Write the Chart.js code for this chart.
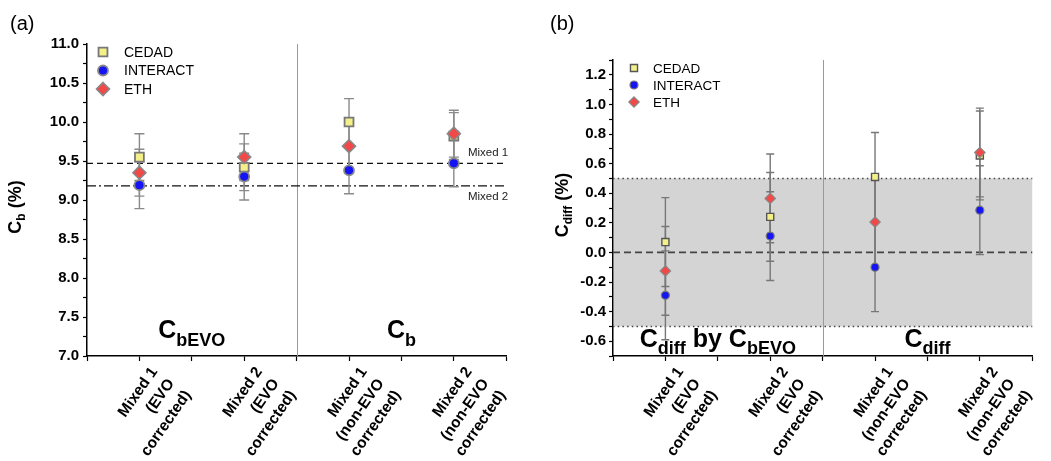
<!DOCTYPE html>
<html>
<head>
<meta charset="UTF-8">
<title>Cb and Cdiff</title>
<script src="https://cdn.jsdelivr.net/npm/chart.js"></script>
<style>
  body { margin: 0; background: #fff; }
  canvas { position: absolute; top: 0; }
</style>
</head>
<body>
<canvas id="grafA" width="525" height="461" style="left:0"></canvas>
<canvas id="grafB" width="526" height="461" style="left:525px"></canvas>
<script>
// samples on the x axis (1..4) and their labels
const samples = [1, 2, 3, 4];
const sampleLabels = [
  ['Mixed 1', '(EVO', 'corrected)'],
  ['Mixed 2', '(EVO', 'corrected)'],
  ['Mixed 1', '(non-EVO', 'corrected)'],
  ['Mixed 2', '(non-EVO', 'corrected)']
];
const labs = ['CEDAD', 'INTERACT', 'ETH'];

// (a) Cb (%)
const cbCedad    = [9.55, 9.42, 10.00, 9.82];
const cbInteract = [9.19, 9.30, 9.38, 9.47];
const cbEth      = [9.35, 9.55, 9.69, 9.85];
const cbErr      = [0.30, 0.30, 0.30, 0.30];
const cbMixed1 = 9.47;
const cbMixed2 = 9.18;
const cbTickLabels = ['7.0', '7.5', '8.0', '8.5', '9.0', '9.5', '10.0', '10.5', '11.0'];

// (b) Cdiff (%)
const cdCedad    = [0.07, 0.24, 0.51, 0.655];
const cdInteract = [-0.29, 0.11, -0.10, 0.285];
const cdEth      = [-0.125, 0.365, 0.205, 0.675];
const cdErr      = [0.30, 0.30, 0.30, 0.30];
const cdBand = [-0.5, 0.5];
const cdTickLabels = ['-0.6', '-0.4', '-0.2', '0.0', '0.2', '0.4', '0.6', '0.8', '1.0', '1.2'];

const FONT = '"Liberation Sans", Arial, sans-serif';
const YELLOW = '#f3f08a', BLUE = '#1414f5', RED = '#f24848';

function drawMarker(ctx, style, x, y, r, fill, stroke, lw) {
  ctx.beginPath();
  if (style === 'rect') {
    const s = r * Math.SQRT1_2;
    ctx.rect(x - s, y - s, 2 * s, 2 * s);
  } else if (style === 'rectRot') {
    ctx.moveTo(x, y - r); ctx.lineTo(x + r, y); ctx.lineTo(x, y + r); ctx.lineTo(x - r, y);
    ctx.closePath();
  } else {
    ctx.arc(x, y, r, 0, Math.PI * 2);
  }
  ctx.fillStyle = fill; ctx.fill();
  ctx.lineWidth = lw; ctx.strokeStyle = stroke; ctx.stroke();
}

// text with subscripts: parts = [[text, size, dy], ...]
function drawRich(ctx, x, y, parts, rot) {
  ctx.save();
  ctx.translate(x, y);
  if (rot) ctx.rotate(rot);
  ctx.fillStyle = '#000';
  ctx.textBaseline = 'alphabetic';
  ctx.textAlign = 'left';
  let total = 0;
  parts.forEach(p => { ctx.font = 'bold ' + p[1] + 'px ' + FONT; total += ctx.measureText(p[0]).width; });
  let cx = -total / 2;
  parts.forEach(p => {
    ctx.font = 'bold ' + p[1] + 'px ' + FONT;
    ctx.fillText(p[0], cx, p[2] || 0);
    cx += ctx.measureText(p[0]).width;
  });
  ctx.restore();
}

function panelPlugin(o) {
  return {
    id: 'panel' + o.tag,
    beforeDatasetsDraw(chart) {
      const { ctx, chartArea: a, scales: { x, y } } = chart;
      ctx.save();
      if (o.band) {
        const y1 = y.getPixelForValue(o.band[1]), y0 = y.getPixelForValue(o.band[0]);
        ctx.fillStyle = '#d4d4d4';
        ctx.fillRect(a.left + 1, y1, a.right - a.left - 1, y0 - y1);
        ctx.strokeStyle = '#444'; ctx.lineWidth = 1.5; ctx.setLineDash([1.5, 3.2]);
        [y0, y1].forEach(py => { ctx.beginPath(); ctx.moveTo(a.left, py); ctx.lineTo(a.right, py); ctx.stroke(); });
      }
      // separator between EVO corrected and non-EVO corrected
      ctx.setLineDash([]);
      ctx.strokeStyle = '#999'; ctx.lineWidth = 1;
      const sx = Math.round(x.getPixelForValue(2.5)) + 0.5;
      ctx.beginPath(); ctx.moveTo(sx, a.top); ctx.lineTo(sx, a.bottom); ctx.stroke();
      // reference lines
      o.refLines.forEach(r => {
        const py = y.getPixelForValue(r.value);
        ctx.strokeStyle = r.color; ctx.lineWidth = r.width; ctx.setLineDash(r.dash);
        ctx.beginPath(); ctx.moveTo(a.left, py); ctx.lineTo(a.right, py); ctx.stroke();
        if (r.label) {
          ctx.setLineDash([]);
          ctx.fillStyle = '#222'; ctx.font = '11.5px ' + FONT; ctx.textAlign = 'right';
          ctx.fillText(r.label, a.right + 2, py + r.labelDy);
        }
      });
      // error bars
      ctx.setLineDash([]);
      ctx.strokeStyle = o.errColor; ctx.lineWidth = 1.4;
      chart.data.datasets.forEach(ds => {
        ds.data.forEach((p, i) => {
          const e = ds.errors[i];
          const px = x.getPixelForValue(p.x);
          const top = y.getPixelForValue(p.y + e), bot = y.getPixelForValue(p.y - e);
          ctx.beginPath();
          ctx.moveTo(px, top); ctx.lineTo(px, bot);
          ctx.moveTo(px - o.cap, top); ctx.lineTo(px + o.cap, top);
          ctx.moveTo(px - o.cap, bot); ctx.lineTo(px + o.cap, bot);
          ctx.stroke();
        });
      });
      ctx.restore();
    },
    afterDraw(chart) {
      const { ctx, chartArea: a, scales: { x } } = chart;
      ctx.save();
      // legend
      chart.data.datasets.slice().sort((p, q) => p.legendIndex - q.legendIndex).forEach((ds, i) => {
        const ly = a.top + o.legend.dy + i * o.legend.step;
        const lx = a.left + o.legend.dx;
        drawMarker(ctx, ds.pointStyle, lx, ly, ds.pointRadius, ds.pointBackgroundColor, ds.pointBorderColor, ds.pointBorderWidth);
        ctx.fillStyle = '#000'; ctx.font = o.legend.font + 'px ' + FONT;
        ctx.textAlign = 'left'; ctx.textBaseline = 'middle';
        ctx.fillText(ds.label, lx + o.legend.text, ly + 1);
      });
      ctx.textBaseline = 'alphabetic';
      // panel letter
      ctx.font = '20px ' + FONT; ctx.fillStyle = '#000'; ctx.textAlign = 'left';
      ctx.fillText(o.letter, o.letterX, 30);
      // axis title
      drawRich(ctx, o.titleX, o.titleY, o.title, -Math.PI / 2);
      // group labels
      drawRich(ctx, x.getPixelForValue(1.5), a.bottom - o.groupDy, o.groupLeft);
      drawRich(ctx, x.getPixelForValue(3.5), a.bottom - o.groupDy, o.groupRight);
      ctx.restore();
    }
  };
}

function series(label, values, errs, style, r, fill, stroke, lw, order, legendIndex) {
  return {
    label: label,
    data: samples.map((s, i) => ({ x: s, y: values[i] })),
    errors: errs,
    pointStyle: style,
    pointRadius: r, pointHoverRadius: r,
    pointBackgroundColor: fill,
    pointBorderColor: stroke,
    pointBorderWidth: lw,
    pointHoverBorderWidth: lw,
    showLine: false,
    order: order,
    legendIndex: legendIndex
  };
}

function makeChart(id, o) {
  const tickFont = { family: FONT, size: 15, weight: 'bold' };
  return new Chart(document.getElementById(id), {
    type: 'scatter',
    data: { datasets: o.datasets },
    options: {
      responsive: false,
      animation: false,
      events: [],
      layout: { padding: { top: o.top, right: o.right, left: 0, bottom: 0 } },
      plugins: { legend: { display: false }, tooltip: { enabled: false } },
      scales: {
        x: {
          type: 'linear', min: 0.5, max: 4.5,
          afterFit: s => { s.height = 105; },
          ticks: {
            stepSize: 0.5, autoSkip: false, minRotation: 55, maxRotation: 55,
            labelOffset: 15, padding: 2, color: '#000',
            font: { family: FONT, size: 15.5, weight: 'bold', lineHeight: 1.32 },
            callback: v => Math.abs(v - Math.round(v)) < 1e-6 ? sampleLabels[samples.indexOf(Math.round(v))] : ''
          },
          grid: { drawOnChartArea: false, tickLength: 5, tickColor: '#000', tickWidth: 1.2 },
          border: { color: '#000', width: 1.5 }
        },
        y: {
          min: o.min, max: o.max,
          afterFit: s => { s.width = o.axisLeft; },
          ticks: {
            stepSize: o.step, autoSkip: false, padding: o.tickPad, color: '#000', font: tickFont,
            callback: v => {
              const s = (Math.round(v * 100) / 100 + 0).toFixed(1);
              return o.tickLabels.includes(s) ? s : '';
            }
          },
          grid: { drawOnChartArea: false, tickLength: 4, tickColor: '#000', tickWidth: 1.2 },
          border: { color: '#000', width: 1.5 }
        }
      }
    },
    plugins: [panelPlugin(o)]
  });
}

makeChart('grafA', {
  tag: 'A', letter: '(a)', letterX: 10,
  top: 44, right: 5, axisLeft: 87, tickPad: 4,
  min: 7, max: 11, step: 0.25, tickLabels: cbTickLabels,
  datasets: [
    series(labs[0], cbCedad, cbErr, 'rect', 6.3, YELLOW, '#777', 1.8, 2, 0),
    series(labs[1], cbInteract, cbErr, 'circle', 5, BLUE, '#888', 1.8, 1, 1),
    series(labs[2], cbEth, cbErr, 'rectRot', 6.5, RED, '#888', 1.6, 0, 2)
  ],
  errColor: '#8a8a8a', cap: 5,
  refLines: [
    { value: cbMixed1, dash: [6, 4], color: '#111', width: 1.2, label: 'Mixed 1', labelDy: -7 },
    { value: cbMixed2, dash: [9, 3, 2, 3], color: '#111', width: 1.2, label: 'Mixed 2', labelDy: 14 }
  ],
  legend: { dx: 16, dy: 8, step: 18.5, text: 21, font: 14 },
  title: [['C', 18], ['b', 12, 4], [' (%)', 18]], titleX: 21, titleY: 207,
  groupDy: 18,
  groupLeft: [['C', 25], ['bEVO', 18, 8]],
  groupRight: [['C', 25], ['b', 18, 8]]
});

makeChart('grafB', {
  tag: 'B', letter: '(b)', letterX: 25,
  top: 60, right: 12, axisLeft: 88, tickPad: 3,
  min: -0.7, max: 1.3, step: 0.1, tickLabels: cdTickLabels,
  band: cdBand,
  datasets: [
    series(labs[0], cdCedad, cdErr, 'rect', 5, YELLOW, '#555', 1.4, 2, 0),
    series(labs[1], cdInteract, cdErr, 'circle', 4, BLUE, '#777', 1.2, 1, 1),
    series(labs[2], cdEth, cdErr, 'rectRot', 5.2, RED, '#888', 1.2, 0, 2)
  ],
  errColor: '#777', cap: 4,
  refLines: [
    { value: 0, dash: [7, 4], color: '#444', width: 1.6 }
  ],
  legend: { dx: 21, dy: 8, step: 17, text: 19, font: 13.5 },
  title: [['C', 18], ['diff', 12, 4], [' (%)', 18]], titleX: 43, titleY: 205,
  groupDy: 9,
  groupLeft: [['C', 25], ['diff', 18, 7], [' by ', 25], ['C', 25], ['bEVO', 18, 7]],
  groupRight: [['C', 25], ['diff', 18, 7]]
});
</script>
</body>
</html>
